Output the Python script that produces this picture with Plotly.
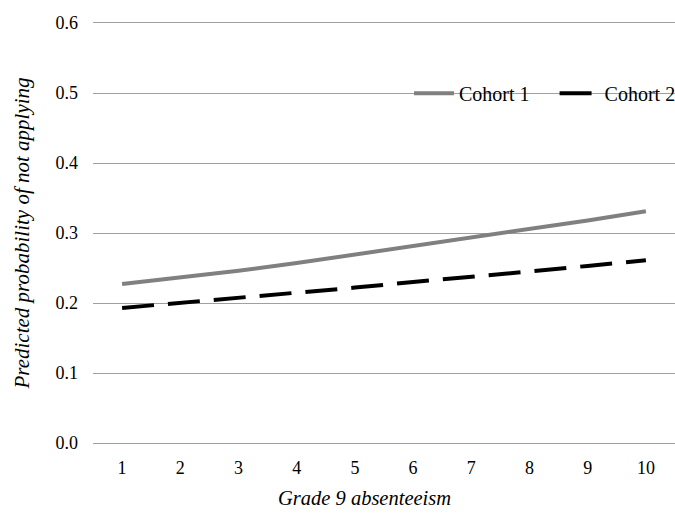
import plotly.graph_objects as go

absenteeism = [1, 2, 3, 4, 5, 6, 7, 8, 9, 10]
cohort1 = [0.227, 0.236, 0.246, 0.257, 0.269, 0.281, 0.293, 0.305, 0.318, 0.331]
cohort2 = [0.193, 0.200, 0.207, 0.214, 0.222, 0.230, 0.237, 0.245, 0.253, 0.261]
y_ticks = [0.0, 0.1, 0.2, 0.3, 0.4, 0.5, 0.6]
x_title = "Grade 9 absenteeism"
y_title = "Predicted probability of not applying"

font = "Liberation Serif"
grid = "#a0a0a0"
nb = "\u00a0"

fig = go.Figure()
fig.add_trace(go.Scatter(x=absenteeism, y=cohort1, mode="lines", name="Cohort 1" + nb * 4,
                         line=dict(color="#808080", width=4)))
fig.add_trace(go.Scatter(x=absenteeism, y=cohort2, mode="lines", name="Cohort 2",
                         line=dict(color="#000000", width=4, dash="32px,14px")))

fig.update_layout(
    width=675, height=514, autosize=False,
    margin=dict(l=93, r=0, t=23, b=71, autoexpand=False),
    paper_bgcolor="white", plot_bgcolor="white",
    font=dict(family=font, size=18, color="black"),
    showlegend=True,
    legend=dict(orientation="h", x=0.543, xanchor="left", y=0.833, yanchor="middle",
                bgcolor="rgba(0,0,0,0)", font=dict(size=20, family=font),
                itemwidth=40, tracegroupgap=0),
    xaxis=dict(range=[0.5, 10.5], tickmode="array", tickvals=absenteeism,
               showgrid=False, zeroline=False, showline=True, mirror=True,
               linecolor=grid, linewidth=1, ticks="",
               automargin=False, ticklabelstandoff=8),
    yaxis=dict(range=[0, 0.6], tickmode="array", tickvals=y_ticks,
               ticktext=[f"{v:.1f}" for v in y_ticks],
               showgrid=True, gridcolor=grid, gridwidth=1, zeroline=False,
               showline=False, ticks="", ticklabelstandoff=14, automargin=False,
               title=dict(text=f"<i>{y_title}</i>", font=dict(size=21), standoff=20)),
    annotations=[dict(text=f"<i>{x_title}</i>", xref="paper", yref="paper",
                      x=0.4665, y=-0.131, xanchor="center", yanchor="middle",
                      showarrow=False, font=dict(size=20.5, family=font))],
)

post = ("document.body.style.margin='0';document.body.style.overflow='hidden';"
        "var gd=document.getElementById('{plot_id}');"
        "Plotly.relayout(gd,{width:675,height:514});")

fig.write_html("out.html", default_width="675px", default_height="514px",
               config={"responsive": False, "displayModeBar": False}, post_script=post)
